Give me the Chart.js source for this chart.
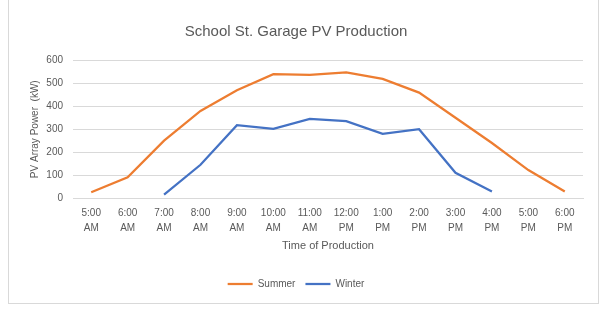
<!DOCTYPE html>
<html><head><meta charset="utf-8">
<script src="https://cdn.jsdelivr.net/npm/chart.js@4"></script>
<style>
html,body{margin:0;padding:0;background:#fff;overflow:hidden;width:606px;height:313px}
#frame{position:absolute;left:8px;top:-2px;width:591px;height:306px;border:1px solid #d9d9d9;box-sizing:border-box}
#c{position:absolute;left:0;top:0}
</style></head>
<body>
<div id="frame"></div>
<canvas id="c" width="606" height="313"></canvas>
<script>
const categories = [
  ["5:00","AM"],["6:00","AM"],["7:00","AM"],["8:00","AM"],["9:00","AM"],["10:00","AM"],["11:00","AM"],
  ["12:00","PM"],["1:00","PM"],["2:00","PM"],["3:00","PM"],["4:00","PM"],["5:00","PM"],["6:00","PM"]
];
const summer = [25, 90, 250, 380, 470, 540, 537, 548, 520, 460, 350, 240, 122, 28];
const winter = [null, null, 15, 145, 318, 302, 345, 335, 280, 300, 110, 28, null, null];
const yTicks = [0, 100, 200, 300, 400, 500, 600];

const FONT = "'Liberation Sans', Arial, sans-serif";
const GREY = '#595959';
const GRID = '#d9d9d9';

new Chart(document.getElementById('c'), {
  type: 'line',
  data: {
    labels: categories,
    datasets: [
      { label: 'Summer', data: summer, borderColor: '#ED7D31', backgroundColor: '#ED7D31',
        borderWidth: 2.25, pointRadius: 0, pointHoverRadius: 0, tension: 0, spanGaps: false,
        pointStyle: 'line' },
      { label: 'Winter', data: winter, borderColor: '#4472C4', backgroundColor: '#4472C4',
        borderWidth: 2.25, pointRadius: 0, pointHoverRadius: 0, tension: 0, spanGaps: false,
        pointStyle: 'line' }
    ]
  },
  options: {
    responsive: false,
    animation: false,
    events: [],
    layout: { padding: { left: 9, right: 23, top: 2, bottom: 14 } },
    plugins: {
      title: {
        display: true,
        text: 'School St. Garage PV Production',
        color: GREY,
        font: { family: FONT, size: 15, weight: 'normal', lineHeight: 1.2 },
        padding: { top: 21, bottom: 19.5 }
      },
      legend: {
        display: true,
        position: 'bottom',
        labels: {
          color: GREY,
          font: { family: FONT, size: 10 },
          usePointStyle: true,
          pointStyleWidth: 25,
          boxHeight: 8,
          padding: 10
        }
      },
      tooltip: { enabled: false }
    },
    scales: {
      x: {
        offset: true,
        grid: { display: false, drawTicks: false },
        border: { display: true, color: GRID, width: 1 },
        ticks: { color: GREY, font: { family: FONT, size: 10, lineHeight: 1.5 },
                 autoSkip: false, maxRotation: 0, minRotation: 0, padding: 8 },
        title: { display: true, text: 'Time of Production', color: GREY,
                 font: { family: FONT, size: 11, lineHeight: 1.2 }, padding: { top: 0, bottom: 16.4 } },
        afterFit: (s) => { s.height = 71; }
      },
      y: {
        min: 0, max: 600,
        afterBuildTicks: (s) => { s.ticks = yTicks.map(v => ({ value: v })); },
        grid: { color: GRID, lineWidth: 1, drawTicks: false },
        border: { display: false },
        ticks: { color: GREY, font: { family: FONT, size: 10 }, padding: 10 },
        title: { display: true, text: 'PV Array Power  (kW)', color: GREY,
                 font: { family: FONT, size: 10, lineHeight: 1.2 }, padding: { top: 20, bottom: 0 } },
        afterFit: (s) => { s.width = 64; }
      }
    }
  }
});
</script>
</body></html>
